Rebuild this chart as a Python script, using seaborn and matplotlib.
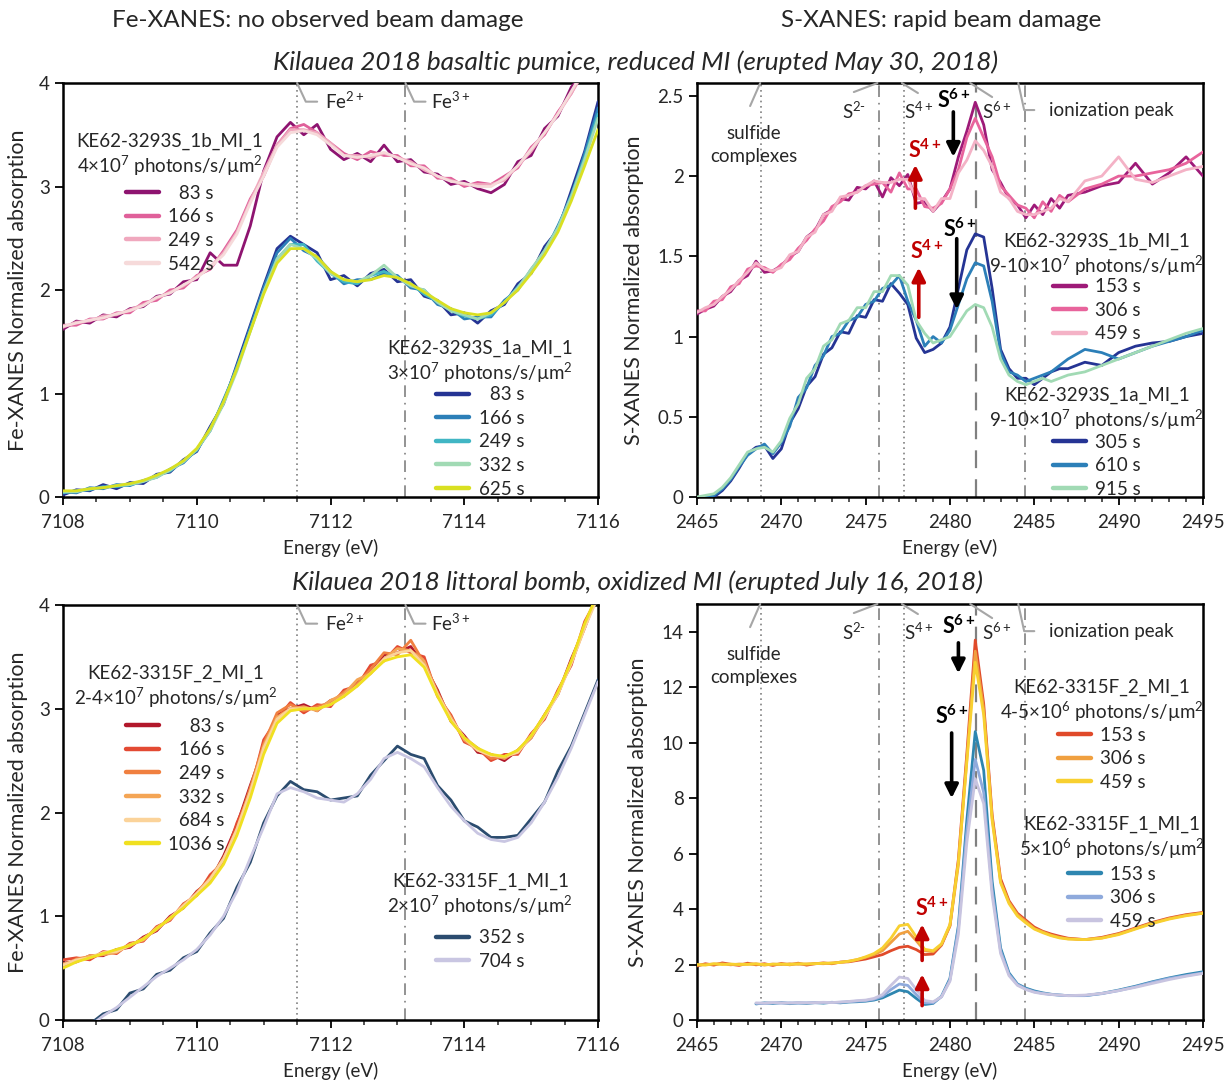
import numpy as np
import pandas as pd
import matplotlib
matplotlib.use("Agg")
import matplotlib.pyplot as plt
from matplotlib.lines import Line2D
from matplotlib.legend import Legend
from matplotlib.ticker import MultipleLocator, FuncFormatter
import seaborn as sns

# ---------------- data ----------------
# energy grids (eV)
fe_energy = np.round(np.arange(7108.0, 7116.01, 0.2), 1)
s_energy = np.concatenate([np.arange(2465.0, 2487.01, 0.5), np.arange(2488.0, 2495.01, 1.0)])

# Fe-XANES, KE62-3293S_1b_MI_1 (reduced MI)
fe_1b_labels = ["\u200783 s", "166 s", "249 s", "542 s"]
fe_1b_colors = ["#8E1470", "#E0609A", "#F0A8BE", "#F6DADA"]
fe_1b_83 = [1.62, 1.70, 1.68, 1.76, 1.74, 1.82, 1.84, 1.94, 1.96, 2.08, 2.10, 2.36, 2.24, 2.24, 2.62, 3.15, 3.48, 3.62, 3.50, 3.60, 3.36,
            3.26, 3.32, 3.24, 3.40, 3.24, 3.26, 3.14, 3.12, 3.02, 3.05, 2.98, 2.94, 3.02, 3.24, 3.30, 3.56, 3.68, 3.96, 4.10, 4.40]
fe_1b_166 = [1.66, 1.66, 1.72, 1.72, 1.78, 1.78, 1.88, 1.90, 2.00, 2.02, 2.14, 2.20, 2.38, 2.58, 2.88, 3.10, 3.40, 3.56, 3.60, 3.52, 3.42,
             3.32, 3.26, 3.34, 3.30, 3.30, 3.20, 3.20, 3.08, 3.08, 3.00, 3.04, 3.02, 3.10, 3.18, 3.38, 3.50, 3.72, 3.90, 4.16, 4.30]
fe_1b_249 = [1.64, 1.69, 1.70, 1.75, 1.76, 1.81, 1.86, 1.92, 1.98, 2.04, 2.13, 2.22, 2.36, 2.56, 2.86, 3.14, 3.40, 3.55, 3.55, 3.52, 3.42,
             3.30, 3.30, 3.28, 3.32, 3.28, 3.24, 3.16, 3.10, 3.06, 3.02, 3.02, 3.02, 3.06, 3.20, 3.34, 3.52, 3.70, 3.90, 4.12, 4.32]
fe_1b_542 = [1.65, 1.68, 1.71, 1.73, 1.77, 1.80, 1.85, 1.93, 1.97, 2.05, 2.12, 2.22, 2.34, 2.54, 2.84, 3.10, 3.38, 3.52, 3.54, 3.50, 3.40,
             3.30, 3.28, 3.30, 3.33, 3.28, 3.22, 3.18, 3.10, 3.05, 3.03, 3.00, 3.00, 3.08, 3.20, 3.36, 3.52, 3.70, 3.92, 4.14, 4.36]

# Fe-XANES, KE62-3293S_1a_MI_1
fe_1a_labels = ["\u200783 s", "166 s", "249 s", "332 s", "625 s"]
fe_1a_colors = ["#253494", "#2C7FB8", "#41B6C4", "#A1DAB4", "#D9E021"]
fe_1a_83 = [0.02, 0.07, 0.06, 0.12, 0.08, 0.14, 0.13, 0.22, 0.24, 0.36, 0.44, 0.68, 0.90, 1.28, 1.66, 2.04, 2.40, 2.52, 2.44, 2.36, 2.10,
            2.14, 2.04, 2.16, 2.20, 2.08, 2.10, 1.94, 1.90, 1.76, 1.78, 1.68, 1.80, 1.86, 2.06, 2.16, 2.42, 2.58, 2.96, 3.34, 3.82]
fe_1a_166 = [0.05, 0.04, 0.09, 0.08, 0.12, 0.11, 0.16, 0.19, 0.27, 0.33, 0.46, 0.64, 0.94, 1.24, 1.64, 2.02, 2.36, 2.50, 2.38, 2.32, 2.18,
             2.06, 2.10, 2.10, 2.16, 2.14, 2.02, 2.00, 1.86, 1.82, 1.72, 1.74, 1.74, 1.90, 2.00, 2.20, 2.36, 2.62, 2.90, 3.32, 3.76]
fe_1a_249 = [0.04, 0.06, 0.07, 0.10, 0.10, 0.12, 0.15, 0.21, 0.25, 0.35, 0.45, 0.66, 0.92, 1.26, 1.61, 1.98, 2.30, 2.44, 2.44, 2.28, 2.16,
             2.08, 2.06, 2.14, 2.18, 2.12, 2.06, 1.96, 1.89, 1.80, 1.75, 1.72, 1.76, 1.88, 2.03, 2.18, 2.38, 2.60, 2.92, 3.28, 3.70]
fe_1a_332 = [0.05, 0.05, 0.08, 0.09, 0.11, 0.12, 0.15, 0.19, 0.26, 0.34, 0.46, 0.64, 0.90, 1.22, 1.60, 1.98, 2.30, 2.44, 2.40, 2.30, 2.16,
             2.10, 2.08, 2.14, 2.24, 2.12, 2.04, 2.00, 1.88, 1.80, 1.76, 1.72, 1.78, 1.88, 2.02, 2.20, 2.38, 2.60, 2.90, 3.26, 3.66]
fe_1a_625 = [0.06, 0.06, 0.08, 0.09, 0.11, 0.13, 0.16, 0.21, 0.27, 0.35, 0.47, 0.66, 0.92, 1.24, 1.60, 1.96, 2.26, 2.40, 2.40, 2.32, 2.18,
             2.10, 2.08, 2.10, 2.14, 2.12, 2.06, 1.98, 1.90, 1.82, 1.78, 1.76, 1.78, 1.88, 2.00, 2.16, 2.34, 2.56, 2.86, 3.20, 3.55]

# Fe-XANES, KE62-3315F_2_MI_1 (oxidized MI)
fe_f2_labels = ["\u2007\u200783 s", "\u2007166 s", "\u2007249 s", "\u2007332 s", "\u2007684 s", "1036 s"]
fe_f2_colors = ["#B2182B", "#E34A33", "#F08040", "#F4A555", "#FBD39A", "#F0E020"]
fe_f2_83 = [0.55, 0.56, 0.62, 0.62, 0.68, 0.70, 0.80, 0.86, 1.00, 1.08, 1.24, 1.34, 1.58, 1.88, 2.26, 2.62, 2.94, 3.00, 3.04, 2.98, 3.08,
            3.12, 3.26, 3.34, 3.52, 3.54, 3.60, 3.42, 3.18, 2.88, 2.74, 2.58, 2.56, 2.50, 2.60, 2.72, 2.94, 3.14, 3.48, 3.78, 4.12]
fe_f2_166 = [0.58, 0.60, 0.58, 0.66, 0.64, 0.74, 0.76, 0.90, 0.96, 1.12, 1.20, 1.40, 1.52, 1.90, 2.20, 2.70, 2.90, 3.06, 2.96, 3.04, 3.02,
             3.18, 3.22, 3.42, 3.46, 3.60, 3.54, 3.50, 3.12, 2.94, 2.68, 2.62, 2.50, 2.56, 2.56, 2.76, 2.90, 3.18, 3.42, 3.84, 4.08]
fe_f2_249 = [0.52, 0.59, 0.61, 0.63, 0.67, 0.71, 0.79, 0.87, 0.99, 1.09, 1.23, 1.37, 1.54, 1.84, 2.24, 2.66, 2.96, 3.04, 2.98, 3.02, 3.06,
             3.16, 3.24, 3.38, 3.54, 3.52, 3.66, 3.44, 3.16, 2.90, 2.72, 2.62, 2.52, 2.54, 2.58, 2.74, 2.94, 3.14, 3.46, 3.80, 4.10]
fe_f2_332 = [0.54, 0.57, 0.62, 0.63, 0.65, 0.73, 0.77, 0.89, 0.97, 1.11, 1.21, 1.36, 1.56, 1.82, 2.20, 2.64, 2.92, 3.00, 3.02, 2.98, 3.08,
             3.14, 3.28, 3.34, 3.48, 3.58, 3.56, 3.46, 3.14, 2.92, 2.70, 2.60, 2.56, 2.52, 2.60, 2.72, 2.92, 3.16, 3.44, 3.78, 4.12]
fe_f2_684 = [0.53, 0.58, 0.60, 0.65, 0.66, 0.72, 0.78, 0.88, 0.98, 1.10, 1.22, 1.36, 1.55, 1.84, 2.20, 2.62, 2.90, 3.00, 3.00, 3.00, 3.04,
             3.12, 3.22, 3.34, 3.48, 3.54, 3.56, 3.42, 3.14, 2.90, 2.72, 2.60, 2.55, 2.54, 2.58, 2.74, 2.92, 3.14, 3.44, 3.78, 4.08]
fe_f2_1036 = [0.50, 0.56, 0.60, 0.64, 0.68, 0.72, 0.78, 0.88, 0.98, 1.08, 1.20, 1.32, 1.50, 1.78, 2.14, 2.56, 2.86, 2.98, 3.00, 3.00, 3.04,
              3.12, 3.22, 3.34, 3.46, 3.50, 3.52, 3.40, 3.12, 2.88, 2.72, 2.62, 2.56, 2.54, 2.60, 2.74, 2.94, 3.16, 3.46, 3.82, 4.12]

# Fe-XANES, KE62-3315F_1_MI_1
fe_f1_labels = ["352 s", "704 s"]
fe_f1_colors = ["#2B4C6F", "#C9C6E2"]
fe_f1_352 = [-0.20, -0.10, -0.04, 0.06, 0.10, 0.26, 0.30, 0.44, 0.48, 0.60, 0.66, 0.84, 0.98, 1.28, 1.52, 1.90, 2.16, 2.30, 2.22, 2.20, 2.12,
             2.14, 2.16, 2.36, 2.50, 2.64, 2.56, 2.52, 2.26, 2.12, 1.92, 1.86, 1.76, 1.76, 1.78, 1.94, 2.10, 2.40, 2.64, 2.96, 3.28]
fe_f1_704 = [-0.20, -0.12, -0.06, 0.04, 0.12, 0.22, 0.32, 0.42, 0.50, 0.58, 0.68, 0.82, 1.00, 1.24, 1.56, 1.86, 2.18, 2.24, 2.20, 2.14, 2.12,
             2.10, 2.18, 2.32, 2.52, 2.58, 2.52, 2.44, 2.24, 2.06, 1.92, 1.80, 1.74, 1.72, 1.76, 1.90, 2.10, 2.34, 2.62, 2.94, 3.26]

# S-XANES, KE62-3293S_1b_MI_1
s_1b_labels = ["153 s", "306 s", "459 s"]
s_1b_colors = ["#9E1A78", "#E8649C", "#F4B2C6"]
s_1b_153 = [1.14, 1.17, 1.19, 1.25, 1.28, 1.35, 1.38, 1.47, 1.40, 1.41, 1.44, 1.50, 1.53, 1.62, 1.66, 1.76, 1.79, 1.86, 1.85, 1.93,
            1.92, 1.97, 1.87, 1.99, 1.94, 2.01, 1.83, 1.84, 1.78, 1.84, 1.92, 2.12, 2.28, 2.46, 2.32, 2.04, 1.96, 1.86, 1.82, 1.74,
            1.82, 1.76, 1.86, 1.80, 1.88, 1.90, 1.94, 1.96, 2.08, 1.95, 2.02, 2.12, 2.00]
s_1b_306 = [1.16, 1.16, 1.22, 1.23, 1.31, 1.33, 1.42, 1.44, 1.43, 1.40, 1.45, 1.48, 1.55, 1.60, 1.67, 1.72, 1.81, 1.84, 1.89, 1.90,
            1.94, 1.95, 1.96, 1.90, 2.02, 1.92, 1.92, 1.81, 1.80, 1.83, 1.92, 2.04, 2.24, 2.36, 2.24, 2.12, 1.94, 1.88, 1.82, 1.80,
            1.74, 1.84, 1.78, 1.88, 1.84, 1.92, 1.95, 2.00, 2.00, 2.02, 2.04, 2.08, 2.15]
s_1b_459 = [1.15, 1.18, 1.20, 1.25, 1.29, 1.35, 1.40, 1.46, 1.42, 1.41, 1.43, 1.51, 1.53, 1.62, 1.65, 1.76, 1.78, 1.87, 1.88, 1.90,
            1.94, 1.97, 1.96, 1.96, 1.98, 1.98, 1.86, 1.86, 1.78, 1.86, 1.86, 2.02, 2.10, 2.22, 2.16, 2.06, 1.90, 1.86, 1.78, 1.76,
            1.76, 1.78, 1.80, 1.86, 1.84, 1.97, 2.00, 2.12, 1.98, 1.96, 2.00, 2.04, 2.06]

# S-XANES, KE62-3293S_1a_MI_1
s_1a_labels = ["305 s", "610 s", "915 s"]
s_1a_colors = ["#253494", "#2C7FB8", "#A1DAB4"]
s_1a_305 = [-0.02, -0.01, 0.00, 0.04, 0.10, 0.18, 0.27, 0.31, 0.32, 0.24, 0.30, 0.46, 0.55, 0.69, 0.75, 0.89, 0.93, 1.03, 1.02, 1.13,
            1.12, 1.23, 1.22, 1.33, 1.27, 1.20, 0.99, 0.90, 0.92, 0.96, 1.06, 1.30, 1.54, 1.64, 1.62, 1.30, 0.92, 0.80, 0.74, 0.74,
            0.70, 0.74, 0.78, 0.80, 0.80, 0.84, 0.82, 0.90, 0.94, 0.96, 0.97, 1.00, 1.02]
s_1a_610 = [-0.01, 0.00, 0.01, 0.05, 0.11, 0.19, 0.26, 0.30, 0.33, 0.27, 0.34, 0.44, 0.62, 0.68, 0.82, 0.88, 1.00, 1.02, 1.10, 1.12,
            1.20, 1.22, 1.30, 1.32, 1.38, 1.22, 1.10, 0.94, 1.00, 0.96, 1.04, 1.20, 1.36, 1.46, 1.44, 1.22, 0.90, 0.78, 0.76, 0.72,
            0.74, 0.76, 0.78, 0.82, 0.86, 0.92, 0.90, 0.86, 0.90, 0.94, 0.97, 1.00, 1.04]
s_1a_915 = [0.00, 0.01, 0.02, 0.06, 0.12, 0.20, 0.28, 0.30, 0.31, 0.28, 0.35, 0.49, 0.58, 0.74, 0.80, 0.94, 0.98, 1.08, 1.10, 1.18,
            1.18, 1.28, 1.28, 1.38, 1.38, 1.32, 1.10, 1.02, 0.96, 0.98, 1.00, 1.08, 1.16, 1.20, 1.18, 1.06, 0.86, 0.76, 0.72, 0.70,
            0.72, 0.74, 0.72, 0.74, 0.76, 0.78, 0.82, 0.86, 0.90, 0.94, 0.98, 1.02, 1.05]

# S-XANES, KE62-3315F_2_MI_1
s_f2_labels = ["153 s", "306 s", "459 s"]
s_f2_colors = ["#E04A2A", "#F0A040", "#F8D030"]
s_f2_153 = [1.95, 2.03, 1.98, 2.06, 2.01, 1.97, 2.05, 1.99, 2.03, 1.97, 2.04, 1.99, 2.05, 1.98, 2.03, 2.06, 2.03, 2.09, 2.10, 2.15,
            2.20, 2.28, 2.36, 2.50, 2.62, 2.66, 2.54, 2.36, 2.38, 2.70, 3.40, 5.80, 9.60, 13.7, 11.4, 7.40, 5.10, 4.30, 3.85, 3.60,
            3.35, 3.20, 3.10, 3.02, 2.95, 2.90, 2.98, 3.12, 3.32, 3.52, 3.68, 3.80, 3.88]
s_f2_306 = [1.98, 2.00, 2.02, 2.03, 1.99, 2.02, 2.01, 2.03, 1.98, 2.02, 2.00, 2.03, 2.01, 2.02, 2.04, 2.03, 2.06, 2.08, 2.12, 2.18,
            2.26, 2.36, 2.50, 2.80, 3.10, 3.20, 2.86, 2.50, 2.46, 2.72, 3.40, 5.60, 9.40, 13.3, 11.2, 7.30, 5.00, 4.25, 3.80, 3.55,
            3.30, 3.18, 3.06, 2.98, 2.93, 2.90, 2.96, 3.10, 3.30, 3.50, 3.66, 3.78, 3.86]
s_f2_459 = [2.00, 1.98, 2.03, 2.00, 2.02, 2.00, 2.01, 2.02, 2.00, 2.01, 2.02, 2.00, 2.03, 2.02, 2.03, 2.05, 2.05, 2.08, 2.12, 2.18,
            2.28, 2.40, 2.60, 2.95, 3.40, 3.45, 3.00, 2.55, 2.50, 2.75, 3.45, 5.70, 9.30, 12.9, 11.0, 7.20, 4.95, 4.20, 3.75, 3.50,
            3.28, 3.15, 3.04, 2.96, 2.92, 2.90, 2.95, 3.08, 3.28, 3.48, 3.64, 3.76, 3.85]

# S-XANES, KE62-3315F_1_MI_1 (no data below 2468.5 eV)
s_f1_labels = ["153 s", "306 s", "459 s"]
s_f1_colors = ["#2E86B0", "#8FAADC", "#C8C4E0"]
s_f1_153 = [np.nan] * 7 + [0.58, 0.62, 0.60, 0.63, 0.59, 0.62, 0.60, 0.63, 0.61, 0.64, 0.62, 0.65, 0.66, 0.68, 0.72, 0.80, 0.94,
                           1.08, 1.02, 0.78, 0.56, 0.60, 0.86, 1.50, 3.40, 7.20, 10.4, 9.00, 5.00, 2.60, 1.70, 1.30, 1.15, 1.05,
                           0.98, 0.93, 0.90, 0.88, 0.88, 0.96, 1.08, 1.22, 1.38, 1.52, 1.64, 1.74]
s_f1_306 = [np.nan] * 7 + [0.60, 0.60, 0.62, 0.61, 0.62, 0.61, 0.62, 0.62, 0.63, 0.63, 0.64, 0.66, 0.68, 0.70, 0.75, 0.86, 1.10,
                           1.30, 1.25, 0.92, 0.62, 0.62, 0.84, 1.45, 3.30, 6.80, 9.40, 8.20, 4.70, 2.50, 1.65, 1.28, 1.12, 1.02,
                           0.96, 0.92, 0.90, 0.88, 0.88, 0.95, 1.06, 1.20, 1.36, 1.50, 1.60, 1.70]
s_f1_459 = [np.nan] * 7 + [0.62, 0.61, 0.63, 0.62, 0.61, 0.63, 0.62, 0.63, 0.64, 0.63, 0.65, 0.67, 0.70, 0.72, 0.78, 0.92, 1.25,
                           1.55, 1.50, 1.10, 0.70, 0.66, 0.84, 1.40, 3.10, 6.40, 8.70, 7.80, 4.50, 2.40, 1.60, 1.25, 1.10, 1.00,
                           0.95, 0.92, 0.90, 0.88, 0.90, 0.96, 1.06, 1.18, 1.32, 1.46, 1.58, 1.68]

# ---------------- style ----------------
sns.set_style("ticks")
FONT = ["Lato", "DejaVu Sans"]
plt.rcParams["font.family"] = FONT
plt.rcParams["mathtext.fontset"] = "custom"
plt.rcParams["mathtext.rm"] = "Lato"
plt.rcParams["mathtext.it"] = "Lato:italic"
plt.rcParams["mathtext.bf"] = "Lato:bold"
TXT = "#262626"
GREY = "#A6A6A6"
VGREY = "#808080"
FS = 13.5
FS_YLAB = 15.5
FS_HEAD = 17.5
FS_SUB = 18.8


def draw_group(ax, energy, series, labels, colors):
    frames = []
    for lab, vals in zip(labels, series):
        frames.append(pd.DataFrame({"Energy": energy, "Absorption": vals, "time": lab}))
    df = pd.concat(frames, ignore_index=True).dropna()
    sns.lineplot(data=df, x="Energy", y="Absorption", hue="time", hue_order=labels,
                 palette=colors, estimator=None, sort=False, lw=2, legend=False, ax=ax, zorder=3)


def add_legend(ax, title, labels, colors, anchor, sep):
    handles = [Line2D([0], [0], color=c, lw=3.2) for c in colors]
    prop = {"family": FONT, "size": FS, "weight": "normal"}
    leg = Legend(ax, handles, labels, title=title, loc="upper center", bbox_to_anchor=anchor,
                 frameon=False, prop=prop, title_fontproperties=prop, handlelength=1.75,
                 handletextpad=0.5, labelspacing=0.35, borderpad=0, borderaxespad=0)
    leg.get_title().set_multialignment("center")
    leg.get_title().set_color(TXT)
    leg._legend_box.sep = sep
    for t in leg.get_texts():
        t.set_color(TXT)
        t.set_fontweight("normal")
    ax.add_artist(leg)


def style_axes(ax, xlim, ylim, xmaj, xmin, ymaj, ylabel, ypad):
    ax.set_xlim(*xlim)
    ax.set_ylim(*ylim)
    ax.xaxis.set_major_locator(MultipleLocator(xmaj))
    ax.xaxis.set_minor_locator(MultipleLocator(xmin))
    ax.yaxis.set_major_locator(MultipleLocator(ymaj))
    ax.yaxis.set_major_formatter(FuncFormatter(lambda v, p: f"{v:g}"))
    ax.xaxis.set_major_formatter(FuncFormatter(lambda v, p: f"{v:g}"))
    ax.tick_params(axis="both", which="major", length=6, width=1.3, labelsize=FS, colors="black", labelcolor=TXT)
    ax.tick_params(axis="x", which="major", pad=6)
    ax.tick_params(axis="x", which="minor", length=3.5, width=1.1)
    for sp in ax.spines.values():
        sp.set_visible(True)
        sp.set_linewidth(1.8)
        sp.set_color("black")
    ax.set_xlabel("Energy (eV)", fontsize=FS, color=TXT, labelpad=6)
    ax.set_ylabel(ylabel, fontsize=FS_YLAB, color=TXT, labelpad=ypad)


def leader(ax, xs, ys):
    ax.plot(xs, ys, color=GREY, lw=1.5, clip_on=False, zorder=4)


def arrow(ax, x, y0, y1, color):
    ax.annotate("", xy=(x, y1), xytext=(x, y0),
                arrowprops=dict(arrowstyle="-|>", color=color, lw=2.6, mutation_scale=20, shrinkA=0, shrinkB=0),
                zorder=6)


fig = plt.figure(figsize=(12.26, 10.84), dpi=100)
ax_tl = fig.add_axes([0.0514, 0.5415, 0.4364, 0.3819])
ax_tr = fig.add_axes([0.5685, 0.5415, 0.4127, 0.3819])
ax_bl = fig.add_axes([0.0514, 0.0590, 0.4364, 0.3829])
ax_br = fig.add_axes([0.5685, 0.0590, 0.4127, 0.3838])

# ---------------- Fe panels ----------------
FE2, FE3 = 7111.5, 7113.12
for ax in (ax_tl, ax_bl):
    ax.axvline(FE2, color=VGREY, lw=1.2, ls=(0, (1, 2.2)), zorder=1)
    ax.axvline(FE3, color=VGREY, lw=1.2, ls=(0, (7, 3.5, 1, 3.5)), zorder=1)
    leader(ax, [FE2, FE2 + 0.13, FE2 + 0.3], [4.0, 3.82, 3.82])
    leader(ax, [FE3, FE3 + 0.13, FE3 + 0.3], [4.0, 3.82, 3.82])
    ax.text(FE2 + 0.42, 3.82, r"Fe$^{2+}$", fontsize=FS, color=TXT, va="center", ha="left")
    ax.text(FE3 + 0.38, 3.82, r"Fe$^{3+}$", fontsize=FS, color=TXT, va="center", ha="left")

draw_group(ax_tl, fe_energy, [fe_1b_83, fe_1b_166, fe_1b_249, fe_1b_542], fe_1b_labels, fe_1b_colors)
draw_group(ax_tl, fe_energy, [fe_1a_83, fe_1a_166, fe_1a_249, fe_1a_332, fe_1a_625], fe_1a_labels, fe_1a_colors)
draw_group(ax_bl, fe_energy, [fe_f2_83, fe_f2_166, fe_f2_249, fe_f2_332, fe_f2_684, fe_f2_1036], fe_f2_labels, fe_f2_colors)
draw_group(ax_bl, fe_energy, [fe_f1_352, fe_f1_704], fe_f1_labels, fe_f1_colors)

for ax in (ax_tl, ax_bl):
    style_axes(ax, (7108, 7116), (0, 4), 2, 0.5, 1, "Fe-XANES Normalized absorption", 8)

add_legend(ax_tl, "KE62-3293S_1b_MI_1\n4×10$^{7}$ photons/s/µm$^{2}$", fe_1b_labels, fe_1b_colors, (0.2, 0.88), 5)
add_legend(ax_tl, "KE62-3293S_1a_MI_1\n3×10$^{7}$ photons/s/µm$^{2}$", fe_1a_labels, fe_1a_colors, (0.78, 0.38), 1)
add_legend(ax_bl, "KE62-3315F_2_MI_1\n2-4×10$^{7}$ photons/s/µm$^{2}$", fe_f2_labels, fe_f2_colors, (0.21, 0.857), 6)
add_legend(ax_bl, "KE62-3315F_1_MI_1\n2×10$^{7}$ photons/s/µm$^{2}$", fe_f1_labels, fe_f1_colors, (0.78, 0.355), 8)

# ---------------- S panels ----------------
for ax, ytop in [(ax_tr, 2.58), (ax_br, 15.0)]:
    ax.axvline(2468.8, color=VGREY, lw=1.2, ls=(0, (1, 2.2)), zorder=1)
    ax.axvline(2475.8, color=VGREY, lw=1.2, ls=(0, (7, 3.5, 1, 3.5)), zorder=1)
    ax.axvline(2477.3, color=VGREY, lw=1.2, ls=(0, (1, 2.2)), zorder=1)
    ax.axvline(2481.55, color=VGREY, lw=1.6, ls=(0, (8, 5)), zorder=1)
    ax.axvline(2484.45, color=VGREY, lw=1.2, ls=(0, (7, 3.5, 1, 3.5)), zorder=1)
    f = ytop / 414.0  # data units per pixel (approx.)
    leader(ax, [2468.75, 2468.15], [ytop, ytop - 23 * f])
    leader(ax, [2475.7, 2474.3], [ytop, ytop - 9 * f])
    leader(ax, [2477.15, 2478.1], [ytop, ytop - 10 * f])
    leader(ax, [2481.2, 2482.5], [ytop, ytop - 14 * f])
    leader(ax, [2484.05, 2484.4, 2485.0], [ytop, ytop - 27 * f, ytop - 27 * f])
    ax.text(2468.35, ytop - 62 * f, "sulfide\ncomplexes", fontsize=FS, color=TXT, ha="center", va="center", linespacing=1.45)
    ax.text(2474.3, ytop - 28 * f, r"S$^{2\text{-}}$", fontsize=FS, color=TXT, ha="center", va="center")
    ax.text(2478.15, ytop - 28 * f, r"S$^{4+}$", fontsize=FS, color=TXT, ha="center", va="center")
    ax.text(2482.75, ytop - 28 * f, r"S$^{6+}$", fontsize=FS, color=TXT, ha="center", va="center")
    ax.text(2485.9, ytop - 27 * f, "ionization peak", fontsize=FS, color=TXT, ha="left", va="center")

draw_group(ax_tr, s_energy, [s_1b_153, s_1b_306, s_1b_459], s_1b_labels, s_1b_colors)
draw_group(ax_tr, s_energy, [s_1a_305, s_1a_610, s_1a_915], s_1a_labels, s_1a_colors)
draw_group(ax_br, s_energy, [s_f2_153, s_f2_306, s_f2_459], s_f2_labels, s_f2_colors)
draw_group(ax_br, s_energy, [s_f1_153, s_f1_306, s_f1_459], s_f1_labels, s_f1_colors)

style_axes(ax_tr, (2465, 2495), (0, 2.58), 5, 1, 0.5, "S-XANES Normalized absorption", 10)
style_axes(ax_br, (2465, 2495), (0, 15.0), 5, 1, 2, "S-XANES Normalized absorption", 10)

RED = "#C00000"
BOLD = dict(fontsize=15.5, fontweight="bold", ha="center", va="center", zorder=7)
# top-right markers
ax_tr.text(2480.2, 2.47, r"S$^{\mathbf{6+}}$", color="black", **BOLD)
arrow(ax_tr, 2480.2, 2.40, 2.12, "black")
ax_tr.text(2478.5, 2.16, r"S$^{\mathbf{4+}}$", color=RED, **BOLD)
arrow(ax_tr, 2477.95, 1.80, 2.07, RED)
ax_tr.text(2480.6, 1.67, r"S$^{\mathbf{6+}}$", color="black", **BOLD)
arrow(ax_tr, 2480.4, 1.61, 1.17, "black")
ax_tr.text(2478.6, 1.53, r"S$^{\mathbf{4+}}$", color=RED, **BOLD)
arrow(ax_tr, 2478.15, 1.12, 1.43, RED)
# bottom-right markers
ax_br.text(2480.5, 14.2, r"S$^{\mathbf{6+}}$", color="black", **BOLD)
arrow(ax_br, 2480.5, 13.6, 12.5, "black")
ax_br.text(2480.1, 10.95, r"S$^{\mathbf{6+}}$", color="black", **BOLD)
arrow(ax_br, 2480.1, 10.35, 8.0, "black")
ax_br.text(2478.9, 4.05, r"S$^{\mathbf{4+}}$", color=RED, **BOLD)
arrow(ax_br, 2478.35, 2.15, 3.45, RED)
arrow(ax_br, 2478.35, 0.52, 1.65, RED)

add_legend(ax_tr, "KE62-3293S_1b_MI_1\n9-10×10$^{7}$ photons/s/µm$^{2}$", s_1b_labels, s_1b_colors, (0.79, 0.638), 0)
add_legend(ax_tr, "KE62-3293S_1a_MI_1\n9-10×10$^{7}$ photons/s/µm$^{2}$", s_1a_labels, s_1a_colors, (0.79, 0.266), 1)
add_legend(ax_br, "KE62-3315F_2_MI_1\n4-5×10$^{6}$ photons/s/µm$^{2}$", s_f2_labels, s_f2_colors, (0.8, 0.82), 2)
add_legend(ax_br, "KE62-3315F_1_MI_1\n5×10$^{6}$ photons/s/µm$^{2}$", s_f1_labels, s_f1_colors, (0.82, 0.49), 3)

# ---------------- headers ----------------
fig.text(0.259, 0.981, "Fe-XANES: no observed beam damage", fontsize=FS_HEAD, color=TXT, ha="center", va="center")
fig.text(0.768, 0.981, "S-XANES: rapid beam damage", fontsize=FS_HEAD, color=TXT, ha="center", va="center")
fig.text(0.518, 0.943, "Kilauea 2018 basaltic pumice, reduced MI (erupted May 30, 2018)", fontsize=FS_SUB,
         style="italic", color=TXT, ha="center", va="center")
fig.text(0.52, 0.463, "Kilauea 2018 littoral bomb, oxidized MI (erupted July 16, 2018)", fontsize=FS_SUB,
         style="italic", color=TXT, ha="center", va="center")

fig.savefig("out.png", dpi=100, facecolor="white")
